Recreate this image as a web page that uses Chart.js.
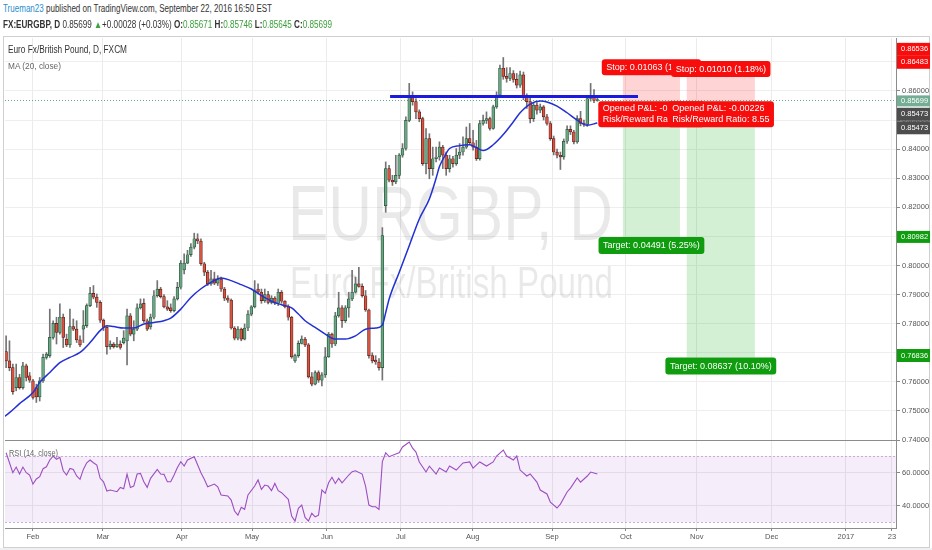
<!DOCTYPE html>
<html>
<head>
<meta charset="utf-8">
<title>EURGBP, D</title>
<script src="https://cdn.jsdelivr.net/npm/chart.js@4.4.1/dist/chart.umd.min.js"></script>
<style>
  html, body { margin: 0; padding: 0; background: #fff; }
  body { width: 932px; height: 550px; position: relative; overflow: hidden;
         font-family: "Liberation Sans", Arial, sans-serif; }
  .t { position: absolute; white-space: nowrap; transform-origin: 0 50%; line-height: 1; }
  .g { color: #3a9f3a; }
  #frame { position: absolute; left: 3px; top: 36px; width: 925px; height: 510px; border: 1px solid #cfcfcf; }
  #foot { position: absolute; left: 0; top: 548px; width: 932px; height: 2px; background: #eef0f3; }
  canvas { position: absolute; left: 0; }
</style>
</head>
<body>
<div id="frame"></div>
<div id="foot"></div>
<canvas id="main" width="932" height="422" style="top:28px"></canvas>
<canvas id="rsi" width="932" height="119" style="top:431px"></canvas>

<div class="t" data-w="269" style="left:3px;top:4px;font-size:10px;color:#333"><span style="color:#2b8dd0">Trueman23</span> published on TradingView.com, September 22, 2016 16:50 EST</div>
<div class="t" data-w="329" style="left:3px;top:20px;font-size:10px;color:#333"><b>FX:EURGBP, D</b> 0.85699 <span style="color:#3aa33a">▲</span>+0.00028 (+0.03%) <b>O:</b><span class="g">0.85671</span> <b>H:</b><span class="g">0.85746</span> <b>L:</b><span class="g">0.85645</span> <b>C:</b><span class="g">0.85699</span></div>
<div class="t" data-w="119" style="left:8px;top:45px;font-size:10px;color:#333">Euro Fx/British Pound, D, FXCM</div>
<div class="t" data-w="53" style="left:8px;top:61px;font-size:9.5px;color:#666">MA (20, close)</div>
<div class="t" data-w="49" style="left:9px;top:448px;font-size:9.5px;color:#666">RSI (14, close)</div>

<script>
// daily bars, index 0 = 20 Jan 2016
const open = [
  0.7704, 0.7672, 0.7649, 0.7580, 0.7615, 0.7580, 0.7655, 0.7621, 0.7603, 0.7580,
  0.7548, 0.7603, 0.7684, 0.7690, 0.7753, 0.7801, 0.7770, 0.7822, 0.7747, 0.7727,
  0.7790, 0.7781, 0.7744, 0.7781, 0.7793, 0.7862, 0.7904, 0.7891, 0.7873, 0.7812,
  0.7787, 0.7721, 0.7730, 0.7721, 0.7730, 0.7735, 0.7741, 0.7827, 0.7764, 0.7781,
  0.7854, 0.7870, 0.7810, 0.7789, 0.7822, 0.7896, 0.7919, 0.7893, 0.7858, 0.7854,
  0.7845, 0.7885, 0.7925, 0.7985, 0.8008, 0.8037, 0.8063, 0.8092, 0.8084, 0.8006,
  0.7977, 0.7937, 0.7954, 0.7939, 0.7953, 0.7919, 0.7888, 0.7881, 0.7785, 0.7750,
  0.7781, 0.7747, 0.7785, 0.7833, 0.7858, 0.7919, 0.7908, 0.7879, 0.7900, 0.7873,
  0.7888, 0.7870, 0.7908, 0.7877, 0.7858, 0.7822, 0.7672, 0.7690, 0.7732, 0.7747,
  0.7727, 0.7617, 0.7592, 0.7632, 0.7606, 0.7624, 0.7686, 0.7764, 0.7730, 0.7827,
  0.7854, 0.7810, 0.7854, 0.7885, 0.7908, 0.7937, 0.7928, 0.7896, 0.7847, 0.7690,
  0.7675, 0.7668, 0.7649, 0.8206, 0.8333, 0.8293, 0.8287, 0.8310, 0.8379, 0.8402,
  0.8499, 0.8580, 0.8563, 0.8528, 0.8505, 0.8350, 0.8436, 0.8333, 0.8367, 0.8373,
  0.8407, 0.8379, 0.8333, 0.8367, 0.8350, 0.8379, 0.8390, 0.8407, 0.8436, 0.8422,
  0.8407, 0.8367, 0.8488, 0.8499, 0.8505, 0.8471, 0.8545, 0.8586, 0.8678, 0.8650,
  0.8643, 0.8660, 0.8640, 0.8620, 0.8655, 0.8580, 0.8563, 0.8505, 0.8551, 0.8534,
  0.8545, 0.8511, 0.8488, 0.8436, 0.8390, 0.8379, 0.8373, 0.8427, 0.8468, 0.8459,
  0.8425, 0.8505, 0.8488, 0.8485, 0.8574, 0.8583, 0.85671
];
const high = [
  0.7758, 0.7741, 0.7661, 0.7661, 0.7626, 0.7667, 0.7661, 0.7632, 0.7609, 0.7592,
  0.7615, 0.7695, 0.7701, 0.7850, 0.7810, 0.7822, 0.7868, 0.7833, 0.7764, 0.7850,
  0.7816, 0.7810, 0.7758, 0.7845, 0.7868, 0.7925, 0.7931, 0.7902, 0.7879, 0.7816,
  0.7790, 0.7741, 0.7735, 0.7753, 0.7741, 0.7776, 0.7850, 0.7835, 0.7810, 0.7868,
  0.7885, 0.7885, 0.7816, 0.7833, 0.7914, 0.7948, 0.7925, 0.7900, 0.7879, 0.7868,
  0.7893, 0.7942, 0.8017, 0.8040, 0.8052, 0.8075, 0.8111, 0.8109, 0.8092, 0.8011,
  0.7983, 0.7983, 0.7977, 0.7965, 0.7960, 0.7925, 0.7896, 0.7885, 0.7790, 0.7790,
  0.7785, 0.7799, 0.7845, 0.7862, 0.7948, 0.7937, 0.7919, 0.7919, 0.7911, 0.7896,
  0.7893, 0.7919, 0.7914, 0.7879, 0.7865, 0.7825, 0.7695, 0.7741, 0.7758, 0.7753,
  0.7732, 0.7632, 0.7638, 0.7638, 0.7632, 0.7718, 0.7770, 0.7768, 0.7839, 0.7908,
  0.7862, 0.7862, 0.7908, 0.7983, 0.7960, 0.7994, 0.7937, 0.7914, 0.7850, 0.7700,
  0.7690, 0.7680, 0.8130, 0.8356, 0.8344, 0.8310, 0.8379, 0.8385, 0.8419, 0.8511,
  0.8626, 0.8597, 0.8574, 0.8535, 0.8510, 0.8471, 0.8453, 0.8407, 0.8407, 0.8425,
  0.8413, 0.8390, 0.8379, 0.8375, 0.8402, 0.8419, 0.8442, 0.8476, 0.8488, 0.8465,
  0.8430, 0.8499, 0.8517, 0.8528, 0.8510, 0.8551, 0.8597, 0.8689, 0.8715, 0.8680,
  0.8680, 0.8670, 0.8660, 0.8668, 0.8665, 0.8590, 0.8575, 0.8560, 0.8560, 0.8555,
  0.8550, 0.8520, 0.8495, 0.8445, 0.8400, 0.8390, 0.8435, 0.8480, 0.8480, 0.8465,
  0.8515, 0.8530, 0.8500, 0.8580, 0.8626, 0.8605, 0.85746
];
const low = [
  0.7649, 0.7638, 0.7557, 0.7569, 0.7575, 0.7575, 0.7603, 0.7598, 0.7540, 0.7529,
  0.7534, 0.7598, 0.7678, 0.7684, 0.7747, 0.7730, 0.7764, 0.7718, 0.7721, 0.7718,
  0.7776, 0.7735, 0.7721, 0.7735, 0.7787, 0.7858, 0.7885, 0.7856, 0.7804, 0.7776,
  0.7695, 0.7712, 0.7716, 0.7718, 0.7712, 0.7730, 0.7658, 0.7758, 0.7741, 0.7776,
  0.7850, 0.7804, 0.7776, 0.7781, 0.7816, 0.7891, 0.7888, 0.7854, 0.7845, 0.7839,
  0.7840, 0.7881, 0.7919, 0.7971, 0.8006, 0.8031, 0.8057, 0.8075, 0.8000, 0.7965,
  0.7931, 0.7931, 0.7934, 0.7931, 0.7911, 0.7879, 0.7873, 0.7781, 0.7744, 0.7744,
  0.7741, 0.7744, 0.7776, 0.7827, 0.7854, 0.7902, 0.7870, 0.7873, 0.7868, 0.7868,
  0.7865, 0.7862, 0.7870, 0.7854, 0.7812, 0.7681, 0.7667, 0.7684, 0.7730, 0.7721,
  0.7613, 0.7586, 0.7589, 0.7598, 0.7586, 0.7615, 0.7684, 0.7718, 0.7724, 0.7822,
  0.7787, 0.7804, 0.7822, 0.7879, 0.7905, 0.7925, 0.7891, 0.7842, 0.7681, 0.7665,
  0.7660, 0.7640, 0.7606, 0.8183, 0.8287, 0.8275, 0.8281, 0.8298, 0.8372, 0.8396,
  0.8494, 0.8551, 0.8505, 0.8494, 0.8344, 0.8315, 0.8298, 0.8310, 0.8356, 0.8362,
  0.8333, 0.8310, 0.8321, 0.8338, 0.8344, 0.8367, 0.8379, 0.8402, 0.8416, 0.8396,
  0.8361, 0.8362, 0.8482, 0.8488, 0.8465, 0.8468, 0.8540, 0.8580, 0.8640, 0.8630,
  0.8635, 0.8630, 0.8610, 0.8612, 0.8570, 0.8540, 0.8490, 0.8495, 0.8520, 0.8525,
  0.8500, 0.8482, 0.8430, 0.8380, 0.8370, 0.8330, 0.8365, 0.8420, 0.8450, 0.8418,
  0.8420, 0.8480, 0.8478, 0.8478, 0.8565, 0.8560, 0.85645
];
const close = [
  0.7672, 0.7649, 0.7566, 0.7615, 0.7580, 0.7655, 0.7615, 0.7606, 0.7546, 0.7548,
  0.7603, 0.7684, 0.7695, 0.7753, 0.7801, 0.7770, 0.7822, 0.7753, 0.7727, 0.7790,
  0.7781, 0.7744, 0.7727, 0.7793, 0.7862, 0.7904, 0.7891, 0.7873, 0.7812, 0.7787,
  0.7721, 0.7730, 0.7721, 0.7730, 0.7718, 0.7750, 0.7827, 0.7764, 0.7781, 0.7854,
  0.7868, 0.7810, 0.7781, 0.7822, 0.7896, 0.7919, 0.7893, 0.7858, 0.7850, 0.7845,
  0.7885, 0.7925, 0.8008, 0.8008, 0.8037, 0.8063, 0.8092, 0.8084, 0.8006, 0.7977,
  0.7937, 0.7954, 0.7939, 0.7953, 0.7919, 0.7888, 0.7881, 0.7785, 0.7750, 0.7781,
  0.7747, 0.7785, 0.7833, 0.7858, 0.7914, 0.7908, 0.7879, 0.7900, 0.7873, 0.7888,
  0.7870, 0.7908, 0.7877, 0.7858, 0.7822, 0.7686, 0.7690, 0.7732, 0.7747, 0.7727,
  0.7617, 0.7592, 0.7632, 0.7606, 0.7624, 0.7686, 0.7764, 0.7730, 0.7827, 0.7854,
  0.7810, 0.7854, 0.7885, 0.7908, 0.7937, 0.7928, 0.7896, 0.7847, 0.7690, 0.7672,
  0.7668, 0.7649, 0.8103, 0.8333, 0.8293, 0.8287, 0.8310, 0.8379, 0.8402, 0.8499,
  0.8580, 0.8563, 0.8528, 0.8505, 0.8350, 0.8436, 0.8333, 0.8367, 0.8373, 0.8407,
  0.8379, 0.8333, 0.8367, 0.8350, 0.8379, 0.8390, 0.8407, 0.8436, 0.8422, 0.8407,
  0.8367, 0.8488, 0.8499, 0.8505, 0.8471, 0.8545, 0.8586, 0.8678, 0.8650, 0.8643,
  0.8660, 0.8640, 0.8620, 0.8655, 0.8580, 0.8563, 0.8505, 0.8551, 0.8534, 0.8545,
  0.8511, 0.8488, 0.8436, 0.8390, 0.8379, 0.8373, 0.8427, 0.8468, 0.8459, 0.8425,
  0.8505, 0.8488, 0.8485, 0.8574, 0.8580, 0.8567, 0.85699
];

// MA (20, close)
const maBar = [-2, 1, 4, 8, 10, 13, 16, 19, 22, 25, 28, 30, 32, 35, 38, 41, 44, 47, 49, 52,
  55, 58, 61, 64, 67, 70, 73, 76, 79, 82, 85, 87, 89, 92, 95, 98, 101, 104, 107, 110,
  112, 113, 114, 117, 120, 123, 126, 128, 129, 131, 132, 135, 138, 140, 142, 145, 148, 151, 153, 156,
  159, 161, 164, 167, 170, 173, 176];
const maVal = [0.7468, 0.7494, 0.7525, 0.7563, 0.7598, 0.7632, 0.7666, 0.7684, 0.7701, 0.7735,
  0.7776, 0.7793, 0.7790, 0.7785, 0.7785, 0.7799, 0.7804, 0.7810, 0.7819, 0.7850,
  0.7890, 0.7920, 0.7942, 0.7957, 0.7948, 0.7934, 0.7919, 0.7896, 0.7877, 0.7865,
  0.7854, 0.7833, 0.7810, 0.7787, 0.7764, 0.7747, 0.7747, 0.7758, 0.7781, 0.7785,
  0.7795, 0.7838, 0.7884, 0.7976, 0.8068, 0.8160, 0.8229, 0.8300, 0.8340, 0.8385,
  0.8402, 0.8412, 0.8415, 0.8405, 0.8395, 0.8415, 0.8450, 0.8494, 0.8525, 0.8555,
  0.8565, 0.8562, 0.8548, 0.8525, 0.8500, 0.8482, 0.8490];

// RSI (14, close)
const rsiBar = [0, 2, 3, 4, 5, 6, 7, 8, 9, 10, 11, 12, 13, 14, 15, 16, 17, 18, 19, 20,
  21, 22, 23, 24, 25, 26, 27, 28, 29, 30, 31, 33, 34, 35, 36, 37, 38, 39, 40, 41,
  42, 43, 45, 46, 47, 48, 49, 50, 51, 52, 53, 54, 56, 58, 59, 60, 62, 63, 64, 66,
  67, 68, 69, 70, 71, 72, 74, 75, 76, 77, 78, 79, 80, 81, 82, 84, 85, 86, 87, 88,
  89, 90, 91, 92, 93, 94, 95, 96, 97, 98, 99, 100, 102, 103, 104, 106, 107, 108, 109, 110,
  111, 112, 113, 114, 116, 117, 118, 120, 121, 122, 123, 125, 126, 128, 129, 131, 132, 134, 136, 138,
  139, 141, 143, 145, 146, 148, 149, 151, 152, 153, 155, 156, 158, 159, 161, 162, 164, 165, 167, 168,
  170, 171, 173, 174, 176];
const rsiVal = [72, 59.9, 63.3, 59.1, 63.3, 59.9, 58.5, 53.0, 56.1, 57.5, 62.3, 63.5, 67.6, 70, 68, 69.2, 61.1, 58.5, 62.5, 61.9,
  57.9, 55.9, 61.9, 65.9, 67.6, 65.9, 64.5, 56.5, 54.4, 48.8, 49.4, 48.4, 51, 50.2, 59.1, 51, 51.8, 59.1, 59.5, 54.4,
  51, 56.5, 61.9, 59.1, 58.9, 54.4, 54.4, 58.5, 63.1, 66.6, 63.9, 67.6, 69.5, 59.9, 55.9, 51.4, 53, 51.4, 46.4, 45.8,
  43.3, 36.7, 34.2, 38.9, 37.7, 46.4, 51.8, 55.5, 49.8, 52.4, 51.8, 49, 53.4, 49, 47.8, 43.8, 33.6, 30.6, 38.3, 40.3,
  32.8, 30.6, 35.3, 33.2, 34.2, 49.4, 47.4, 53.8, 57.1, 53.4, 56.5, 53.8, 58.5, 60.5, 61.1, 59.1, 51.8, 40.3, 39.3, 39.3,
  37.7, 66.6, 72, 69.6, 71.2, 72, 75.5, 78.5, 74.8, 72.4, 66.4, 60.3, 63.9, 59.1, 62.7, 60.3, 63.9, 61.5, 65.8, 66.4,
  62.7, 66.4, 63.9, 66.4, 70, 73.6, 70, 67.6, 70, 61.5, 57.9, 59.1, 54.2, 49.4, 47, 42.1, 38.5, 40.9, 48.2, 50.6,
  56.7, 54.2, 57.9, 60.3, 59.1];

// time axis (bar index), month labels
const xMin = -0.33, xMax = 264.9;
const monthTicks = [8.0, 28.8, 52.3, 73.2, 95.5, 117.5, 138.9, 162.5, 184.5, 205.6, 227.9, 250.0, 263.7];
const monthLabels = ['Feb', 'Mar', 'Apr', 'May', 'Jun', 'Jul', 'Aug', 'Sep', 'Oct', 'Nov', 'Dec', '2017', '23'];
const priceTicks = [0.74, 0.75, 0.76, 0.77, 0.78, 0.79, 0.80, 0.81, 0.82, 0.83, 0.84, 0.85, 0.86, 0.87];
const rsiTicks = [40, 60];

// drawings
const levelBar = [114.3, 188.1];
const levelVal = [0.8581, 0.8581];
const lastPrice = 0.85699;
const entryPrice = 0.85473;
const posStart = [183.6, 202.6];
const posEnd = [200.6, 222.9];
const stopPrice = [0.86536, 0.86483];
const targetPrice = [0.80982, 0.76836];
const stopText = ['Stop: 0.01063 (1.24%)', 'Stop: 0.01010 (1.18%)'];
const pnlText = ['Opened P&L: -0.00226', 'Opened P&L: -0.00226'];
const rrText = ['Risk/Reward Ratio: 4.22', 'Risk/Reward Ratio: 8.55'];
const targetText = ['Target: 0.04491 (5.25%)', 'Target: 0.08637 (10.10%)'];

const UP = '#6ba583', DOWN = '#d75442', UP_EDGE = '#225437', DOWN_EDGE = '#5b1a13';
const FONT = '"Liberation Sans", Arial, sans-serif';
const MAIN_TOP = 28;   // canvas offsets in the page
const isUp = i => close[i] >= open[i];

function fitText(ctx, s, x0, x1, y, size, color, weight) {
  ctx.save();
  ctx.font = (weight || '') + ' ' + size + 'px ' + FONT;
  const w = ctx.measureText(s).width;
  ctx.translate(x0, y);
  ctx.scale((x1 - x0) / w, 1);
  ctx.fillStyle = color;
  ctx.textAlign = 'left';
  ctx.fillText(s, 0, 0);
  ctx.restore();
}

function text(ctx, s, x, y, size, color, sx) {
  ctx.save();
  ctx.font = size + 'px ' + FONT;
  ctx.translate(x, y);
  ctx.scale(sx, 1);
  ctx.fillStyle = color;
  ctx.textAlign = 'left';
  ctx.textBaseline = 'middle';
  ctx.fillText(s, 0, 0);
  ctx.restore();
}

function textWidth(ctx, s, size, sx) {
  ctx.save();
  ctx.font = size + 'px ' + FONT;
  const w = ctx.measureText(s).width * sx;
  ctx.restore();
  return w;
}

function box(ctx, x, y, w, h, color, r) {
  ctx.fillStyle = color;
  ctx.beginPath();
  if (ctx.roundRect) ctx.roundRect(x, y, w, h, r); else ctx.rect(x, y, w, h);
  ctx.fill();
}

const mainExtras = {
  id: 'mainExtras',
  beforeDatasetsDraw(chart) {
    const { ctx, chartArea: a, scales: { x, y } } = chart;
    ctx.save();
    ctx.beginPath();
    ctx.rect(a.left, a.top, a.right - a.left, a.bottom - a.top);
    ctx.clip();

    // watermark
    ctx.textBaseline = 'alphabetic';
    fitText(ctx, 'EURGBP, D', 288, 613, 240 - MAIN_TOP, 77, 'rgba(0,0,0,0.085)');
    fitText(ctx, 'Euro Fx/British Pound', 290, 613, 298 - MAIN_TOP, 45, 'rgba(0,0,0,0.085)');

    // short positions: risk (pink) and reward (green) zones
    for (let k = 0; k < 2; k++) {
      const x0 = x.getPixelForValue(posStart[k]);
      const x1 = x.getPixelForValue(posEnd[k]);
      const yE = y.getPixelForValue(entryPrice);
      const yS = y.getPixelForValue(stopPrice[k]);
      const yT = y.getPixelForValue(targetPrice[k]);
      ctx.fillStyle = 'rgba(255,0,0,0.17)';
      ctx.fillRect(x0, yS, x1 - x0, yE - yS);
      ctx.fillStyle = 'rgba(0,165,0,0.17)';
      ctx.fillRect(x0, yE, x1 - x0, yT - yE);
    }

    // last price line
    const yL = Math.round(y.getPixelForValue(lastPrice)) + 0.5;
    ctx.strokeStyle = '#5fa88c';
    ctx.lineWidth = 1;
    ctx.setLineDash([1, 2]);
    ctx.beginPath();
    ctx.moveTo(a.left, yL);
    ctx.lineTo(a.right, yL);
    ctx.stroke();
    ctx.restore();
  },
  afterDatasetsDraw(chart) {
    const { ctx, scales: { x, y } } = chart;
    const size = 9.5, sx = 0.95;
    for (let k = 0; k < 2; k++) {
      const cx = (x.getPixelForValue(posStart[k]) + x.getPixelForValue(posEnd[k])) / 2;
      const yE = y.getPixelForValue(entryPrice);
      const yS = y.getPixelForValue(stopPrice[k]);
      const yT = y.getPixelForValue(targetPrice[k]);

      let w = textWidth(ctx, stopText[k], size, sx) + 9;
      box(ctx, cx - w / 2, yS - 16, w, 16, '#f80d0d', 3);
      text(ctx, stopText[k], cx - w / 2 + 4.5, yS - 8, size, '#fff', sx);

      w = Math.max(textWidth(ctx, pnlText[k], size, sx), textWidth(ctx, rrText[k], size, sx)) + 9;
      box(ctx, cx - w / 2, yE - 5, w, 26, '#f80d0d', 3);
      text(ctx, pnlText[k], cx - w / 2 + 4.5, yE + 2.5, size, '#fff', sx);
      text(ctx, rrText[k], cx - w / 2 + 4.5, yE + 13.5, size, '#fff', sx);

      w = textWidth(ctx, targetText[k], size, sx) + 9;
      box(ctx, cx - w / 2, yT, w, 17, '#0f9d0f', 3);
      text(ctx, targetText[k], cx - w / 2 + 4.5, yT + 8.5, size, '#fff', sx);
    }
  },
  afterDraw(chart) {
    const { ctx, scales: { y } } = chart;
    const tags = [
      { s: '0.86536', p: stopPrice[0], dy: -26, h: 13, c: '#f80d0d' },
      { s: '0.86483', p: stopPrice[1], dy: -14.6, h: 13, c: '#f80d0d' },
      { s: '0.85699', p: lastPrice, dy: 1.2, h: 11, c: '#72ad94' },
      { s: '0.85473', p: entryPrice, dy: 8, h: 13, c: '#4d4d4d' },
      { s: '0.85473', p: entryPrice, dy: 21.5, h: 13, c: '#4d4d4d' },
      { s: '0.80982', p: targetPrice[0], dy: 0, h: 12, c: '#0f9d0f' },
      { s: '0.76836', p: targetPrice[1], dy: -2, h: 13, c: '#0f9d0f' }
    ];
    tags.forEach(t => {
      const cy = y.getPixelForValue(t.p) + t.dy;
      ctx.fillStyle = t.c;
      ctx.fillRect(897, cy - t.h / 2, 33, t.h);
      text(ctx, t.s, 901, cy, 7.5, '#fff', 1);
    });
  }
};

const rsiExtras = {
  id: 'rsiExtras',
  beforeDatasetsDraw(chart) {
    const { ctx, chartArea: a, scales: { y } } = chart;
    const y70 = y.getPixelForValue(70), y30 = y.getPixelForValue(30);
    ctx.save();
    ctx.fillStyle = 'rgba(150,50,200,0.09)';
    ctx.fillRect(a.left, y70, a.right - a.left, y30 - y70);
    ctx.strokeStyle = '#c9aedb';
    ctx.lineWidth = 1;
    ctx.setLineDash([2, 2]);
    [y70, y30].forEach(v => {
      ctx.beginPath();
      ctx.moveTo(a.left, Math.round(v) + 0.5);
      ctx.lineTo(a.right, Math.round(v) + 0.5);
      ctx.stroke();
    });
    ctx.restore();
  }
};

const timeAxis = (showLabels) => ({
  type: 'linear',
  min: xMin,
  max: xMax,
  offset: false,
  afterBuildTicks: s => { s.ticks = monthTicks.map(v => ({ value: v })); },
  afterFit: s => { s.height = showLabels ? 22 : 0; },
  ticks: {
    display: showLabels,
    autoSkip: false,
    maxRotation: 0,
    padding: 1,
    font: { family: FONT, size: 7.5 },
    color: '#555',
    callback: (v, i) => monthLabels[i]
  },
  grid: { color: '#ebebeb', offset: false, drawTicks: showLabels, tickLength: 3, tickColor: '#888' },
  border: { display: true, color: '#8c8c8c' }
});

new Chart(document.getElementById('main'), {
  type: 'bar',
  data: {
    datasets: [
      {
        label: 'wick',
        data: close.map((_, i) => ({ x: i, y: [low[i], high[i]] })),
        backgroundColor: '#737375',
        barThickness: 1,
        grouped: false,
        order: 3
      },
      {
        label: 'body',
        data: close.map((_, i) => ({ x: i, y: [open[i], close[i]] })),
        backgroundColor: c => isUp(c.dataIndex) ? UP : DOWN,
        borderColor: c => isUp(c.dataIndex) ? UP_EDGE : DOWN_EDGE,
        borderWidth: 0.7,
        borderSkipped: false,
        barThickness: 2.8,
        minBarLength: 1,
        grouped: false,
        order: 2
      },
      {
        type: 'line',
        label: 'MA (20, close)',
        data: maBar.map((b, k) => ({ x: b, y: maVal[k] })),
        borderColor: '#2230d4',
        borderWidth: 1.5,
        pointRadius: 0,
        cubicInterpolationMode: 'monotone',
        order: 1
      },
      {
        type: 'line',
        label: 'level',
        data: levelBar.map((b, k) => ({ x: b, y: levelVal[k] })),
        borderColor: '#1b1be0',
        borderWidth: 3,
        pointRadius: 0,
        order: 0
      }
    ]
  },
  options: {
    responsive: false,
    animation: false,
    events: [],
    layout: { padding: { left: 5, right: 0, top: 10, bottom: 10 } },
    plugins: { legend: { display: false }, tooltip: { enabled: false } },
    scales: {
      x: timeAxis(false),
      y: {
        position: 'right',
        min: 0.74,
        max: 0.8782,
        afterBuildTicks: s => { s.ticks = priceTicks.map(v => ({ value: v })); },
        afterFit: s => { s.width = 36; },
        ticks: {
          padding: 2,
          font: { family: FONT, size: 7.5 },
          color: '#555',
          callback: v => v.toFixed(5)
        },
        grid: { color: '#eeeeee', tickLength: 4, tickColor: '#888' },
        border: { display: true, color: '#8c8c8c' }
      }
    }
  },
  plugins: [mainExtras]
});

new Chart(document.getElementById('rsi'), {
  type: 'line',
  data: {
    datasets: [{
      label: 'RSI (14, close)',
      data: rsiBar.map((b, k) => ({ x: b, y: rsiVal[k] })),
      borderColor: '#9b4fc1',
      borderWidth: 1.1,
      pointRadius: 0,
      tension: 0
    }]
  },
  options: {
    responsive: false,
    animation: false,
    events: [],
    layout: { padding: { left: 5, right: 0, top: 10, bottom: 0 } },
    plugins: { legend: { display: false }, tooltip: { enabled: false } },
    scales: {
      x: timeAxis(true),
      y: {
        position: 'right',
        min: 26.4,
        max: 79.1,
        afterBuildTicks: s => { s.ticks = rsiTicks.map(v => ({ value: v })); },
        afterFit: s => { s.width = 36; },
        ticks: {
          padding: 2,
          font: { family: FONT, size: 7.5 },
          color: '#555',
          callback: v => v.toFixed(4)
        },
        grid: { color: '#ececec', tickLength: 4, tickColor: '#888' },
        border: { display: true, color: '#8c8c8c' }
      }
    }
  },
  plugins: [rsiExtras]
});

// squeeze the html captions to the widths seen in the picture
document.querySelectorAll('.t[data-w]').forEach(el => {
  const w = el.getBoundingClientRect().width;
  el.style.transform = 'scaleX(' + (el.dataset.w / w) + ')';
});
</script>
</body>
</html>
